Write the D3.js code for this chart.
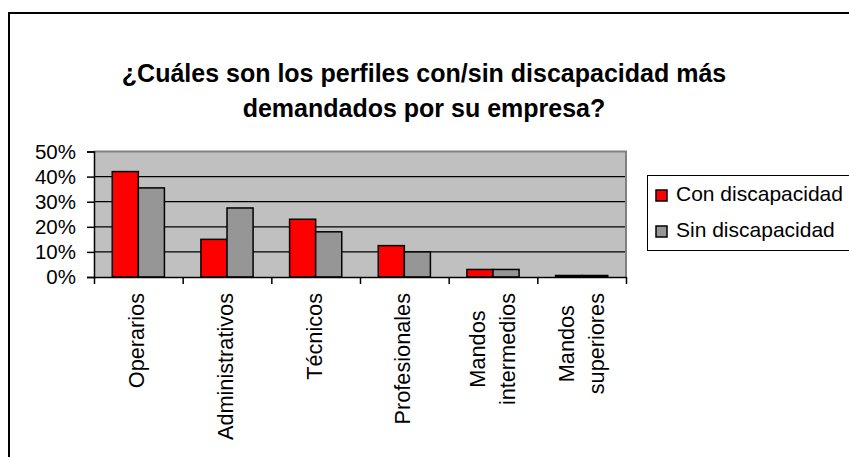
<!DOCTYPE html>
<html>
<head>
<meta charset="utf-8">
<script src="https://cdn.jsdelivr.net/npm/d3@7"></script>
<style>
  body { margin: 0; background: #fff; }
  text { font-family: "Liberation Sans", Arial, sans-serif; fill: #000; }
</style>
</head>
<body>
<div id="chart"></div>
<script>
// data
let categories = ["Operarios", "Administrativos", "Técnicos", "Profesionales", "Mandos\nintermedios", "Mandos\nsuperiores"];
let seriesNames = ["Con discapacidad", "Sin discapacidad"];
let conValues = [42, 15, 23, 12.5, 3, 0.6];
let sinValues = [35.5, 27.5, 18, 10, 3, 0.6];
let yTicks = [0, 10, 20, 30, 40, 50];
let colors = ["#ff0000", "#969696"];

let width = 849, height = 457;
let plot = {left: 94, top: 151.5, right: 626, bottom: 277};

let svg = d3.select("#chart").append("svg")
    .attr("width", width)
    .attr("height", height);

// outer chart frame (cut off at right / bottom like the picture)
svg.append("rect")
    .attr("x", 9).attr("y", 13)
    .attr("width", 900).attr("height", 500)
    .attr("fill", "#fff")
    .attr("stroke", "#000")
    .attr("stroke-width", 2);

// title
let title = svg.append("text")
    .attr("text-anchor", "middle")
    .style("font-weight", "bold")
    .style("font-size", "25px");
title.append("tspan").attr("x", 424).attr("y", 82).text("¿Cuáles son los perfiles con/sin discapacidad más");
title.append("tspan").attr("x", 424).attr("y", 117).text("demandados por su empresa?");

let x = d3.scaleBand().domain(d3.range(categories.length)).range([plot.left, plot.right]);
let y = d3.scaleLinear().domain([0, 50]).range([plot.bottom, plot.top]);
let barW = x.bandwidth() / 3.4;
let xs = d3.scaleBand().domain([0, 1])
    .range([x.bandwidth() / 2 - barW, x.bandwidth() / 2 + barW]);

let g = svg.append("g");

// plot background
g.append("rect")
    .attr("x", plot.left).attr("y", plot.top)
    .attr("width", plot.right - plot.left)
    .attr("height", plot.bottom - plot.top)
    .attr("fill", "#c0c0c0");

// gridlines
g.selectAll(".grid")
    .data(yTicks.filter(d => d > 0 && d < 50))
    .enter().append("line")
    .attr("class", "grid")
    .attr("x1", plot.left).attr("x2", plot.right)
    .attr("y1", d => y(d)).attr("y2", d => y(d))
    .attr("stroke", "#000")
    .attr("stroke-width", 1.2);

// gray top / right border of the plot area
g.append("path")
    .attr("d", "M" + plot.left + "," + y(50) + "H" + plot.right + "V" + plot.bottom)
    .attr("fill", "none")
    .attr("stroke", "#808080")
    .attr("stroke-width", 2);

// bars
let rows = categories.map((c, i) => ({i: i, values: [conValues[i], sinValues[i]]}));
let groups = g.selectAll(".cat")
    .data(rows)
    .enter().append("g")
    .attr("class", "cat")
    .attr("transform", d => "translate(" + x(d.i) + ",0)");

groups.selectAll("rect")
    .data(d => d.values.map((v, s) => ({s: s, v: v})))
    .enter().append("rect")
    .attr("x", d => xs(d.s))
    .attr("y", d => y(d.v))
    .attr("width", xs.bandwidth())
    .attr("height", d => y(0) - y(d.v))
    .attr("fill", d => colors[d.s])
    .attr("stroke", "#000")
    .attr("stroke-width", 1.5);

// y axis
let yAxis = g.append("g")
    .attr("transform", "translate(" + plot.left + ",0)")
    .call(d3.axisLeft(y).tickValues(yTicks).tickSize(7).tickPadding(11).tickFormat(d => d + "%"));
yAxis.select(".domain").attr("stroke", "#000").attr("stroke-width", 1.5);
yAxis.selectAll(".tick line").attr("stroke", "#000").attr("stroke-width", 1.5);
yAxis.selectAll(".tick text")
    .style("font-size", "20.5px")
    .style("font-family", "'Liberation Sans', Arial, sans-serif")
    .attr("fill", "#000");

// x axis (ticks on category boundaries)
let xEdges = d3.scaleLinear().domain([0, categories.length]).range([plot.left, plot.right]);
let xAxis = g.append("g")
    .attr("transform", "translate(0," + plot.bottom + ")")
    .call(d3.axisBottom(xEdges).tickValues(d3.range(categories.length + 1)).tickSize(7).tickSizeOuter(0).tickFormat(""));
xAxis.select(".domain").attr("stroke", "#000").attr("stroke-width", 1.5);
xAxis.selectAll(".tick line").attr("stroke", "#000").attr("stroke-width", 1.5);

// rotated category labels
let labels = g.selectAll(".catlabel")
    .data(categories)
    .enter().append("g")
    .attr("class", "catlabel")
    .attr("transform", (d, i) => "translate(" + (x(i) + x.bandwidth() / 2) + ",293) rotate(-90)");

labels.each(function(d) {
    let lines = d.split("\n");
    let t = d3.select(this).append("text").style("font-size", "21.7px");
    if (lines.length === 1) {
        t.attr("text-anchor", "end").attr("x", 0).attr("y", 6).text(d);
    } else {
        t.attr("text-anchor", "middle");
        let spans = lines.map((l, k) => t.append("tspan").attr("y", -8 + k * 30).text(l));
        let maxLen = d3.max(spans, s => s.node().getComputedTextLength());
        spans.forEach(s => s.attr("x", -maxLen / 2));
    }
});

// legend
let legend = svg.append("g");
legend.append("rect")
    .attr("x", 647.5).attr("y", 175.5)
    .attr("width", 240).attr("height", 75)
    .attr("fill", "#fff")
    .attr("stroke", "#000")
    .attr("stroke-width", 1);

let items = legend.selectAll(".item")
    .data(seriesNames)
    .enter().append("g")
    .attr("class", "item")
    .attr("transform", (d, i) => "translate(656," + (190 + i * 36) + ")");
items.append("rect")
    .attr("width", 11).attr("height", 11)
    .attr("fill", (d, i) => colors[i])
    .attr("stroke", "#000")
    .attr("stroke-width", 1.5);
items.append("text")
    .attr("x", 20).attr("y", 11)
    .style("font-size", "21px")
    .text(d => d);
</script>
</body>
</html>
